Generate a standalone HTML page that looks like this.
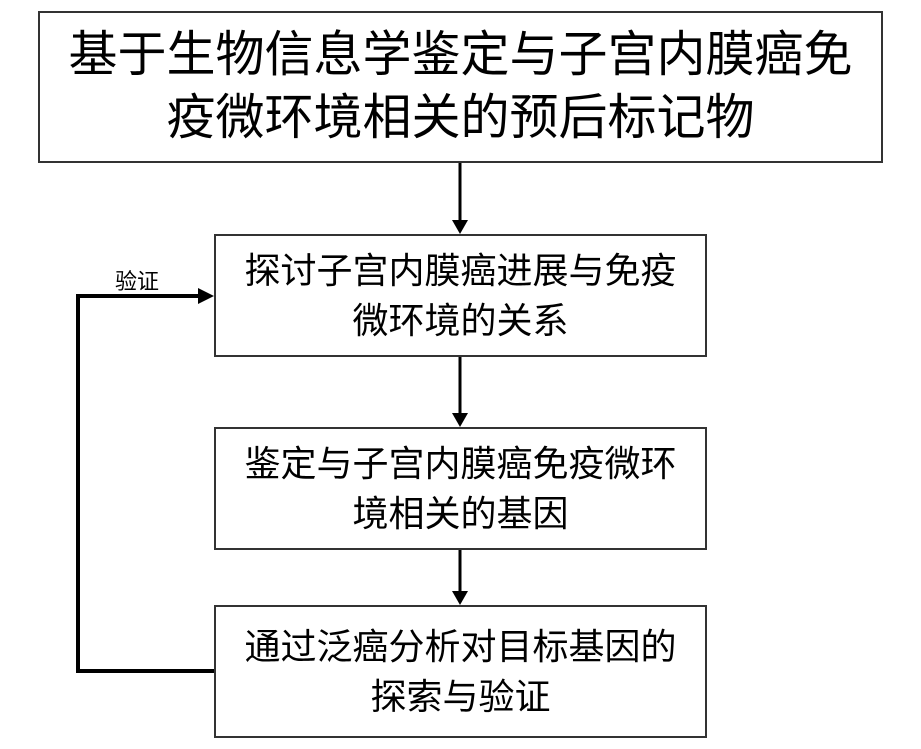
<!DOCTYPE html>
<html><head><meta charset="utf-8"><style>
body{margin:0;width:921px;height:749px;background:#fff;position:relative;overflow:hidden;font-family:"Liberation Sans","Noto Sans CJK SC",sans-serif;color:#000}
.b{position:absolute;border:2px solid #333;box-sizing:border-box;display:flex;align-items:center;justify-content:center;text-align:center}
.t1{font-size:49px;line-height:63px}
.t2{font-size:36px;line-height:50px}
</style></head><body>
<div class="b t1" style="left:38px;top:11px;width:845px;height:152px">基于生物信息学鉴定与子宫内膜癌免<br>疫微环境相关的预后标记物</div>
<div class="b t2" style="left:214px;top:234px;width:493px;height:123px">探讨子宫内膜癌进展与免疫<br>微环境的关系</div>
<div class="b t2" style="left:214px;top:427px;width:493px;height:123px">鉴定与子宫内膜癌免疫微环<br>境相关的基因</div>
<div class="b t2" style="left:214px;top:605px;width:493px;height:133px">通过泛癌分析对目标基因的<br>探索与验证</div>
<div style="position:absolute;left:115px;top:268px;font-size:22px;line-height:28px">验证</div>
<svg width="921" height="749" style="position:absolute;left:0;top:0">
<g stroke="#000" stroke-width="3" fill="#000">
<line x1="460" y1="163" x2="460" y2="222"/><polygon points="452,220 468,220 460,234" stroke="none"/>
<line x1="460" y1="357" x2="460" y2="416"/><polygon points="452,413 468,413 460,427" stroke="none"/>
<line x1="460" y1="550" x2="460" y2="593"/><polygon points="452,591 468,591 460,605" stroke="none"/>
</g>
<polyline points="214,671 78,671 78,296 200,296" fill="none" stroke="#000" stroke-width="4"/>
<polygon points="198,288 214,296 198,304" fill="#000"/>
</svg>
</body></html>
